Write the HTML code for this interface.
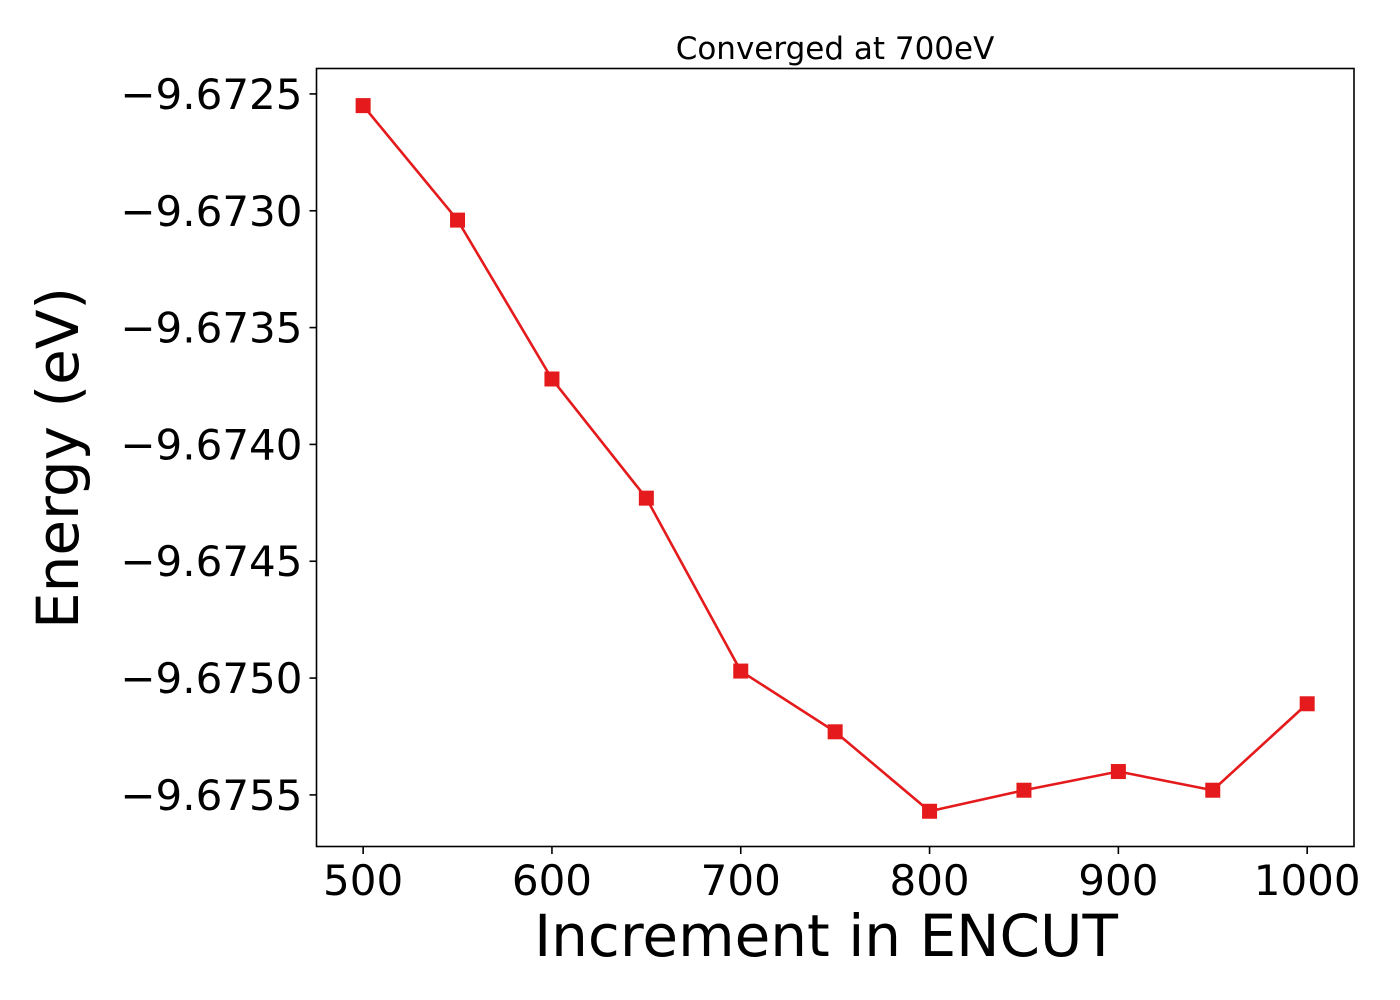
<!DOCTYPE html>
<html><head><meta charset="utf-8"><style>body{margin:0;background:#fff}svg{display:block;font-family:"DejaVu Sans","Liberation Sans",sans-serif}</style></head>
<body>
<svg id="chart" width="1400" height="1000">
<text x="835" y="59" font-size="31" text-anchor="middle">Converged at 700eV</text>
<text x="826" y="956" font-size="58" text-anchor="middle">Increment in ENCUT</text>
<text transform="translate(78,458) rotate(-90)" font-size="58" text-anchor="middle">Energy (eV)</text>
<g id="ticks"></g>
<g id="series"></g>
<rect x="316.5" y="68.5" width="1037.5" height="778" fill="none" stroke="#000" stroke-width="1.6"/>
</svg>
<script>
const xValues=[500,550,600,650,700,750,800,850,900,950,1000];
const energies=[-9.67255,-9.67304,-9.67372,-9.67423,-9.67497,-9.67523,-9.67557,-9.67548,-9.67540,-9.67548,-9.67511];
const xTicks=[500,600,700,800,900,1000];
const yTicks=[-9.6725,-9.6730,-9.6735,-9.6740,-9.6745,-9.6750,-9.6755];
const yTickLabels=["\u22129.6725","\u22129.6730","\u22129.6735","\u22129.6740","\u22129.6745","\u22129.6750","\u22129.6755"];
const L=316.5,R=1354,T=68,B=847;
const xMin=475.3,xMax=1024.8,yMin=-9.675723,yMax=-9.672389;
const sx=v=>L+(v-xMin)/(xMax-xMin)*(R-L);
const sy=v=>B-(v-yMin)/(yMax-yMin)*(B-T);
const NS="http://www.w3.org/2000/svg";
const tg=document.getElementById('ticks'),sg=document.getElementById('series');
function mk(tag,attrs,parent){const e=document.createElementNS(NS,tag);for(const k in attrs)e.setAttribute(k,attrs[k]);parent.appendChild(e);return e;}
xTicks.forEach(v=>{const x=sx(v);
 const l=mk('line',{x1:x,x2:x,y1:B,y2:B+7,stroke:'#000','stroke-width':1.6},tg);
 
 
 const t=mk('text',{x:x,y:B+48,'font-size':42,'text-anchor':'middle'},tg);
 
 
 t.textContent=v;});
yTicks.forEach((v,i)=>{const y=sy(v);
 const l=mk('line',{x1:L-7,x2:L,y1:y,y2:y,stroke:'#000','stroke-width':1.6},tg);
 
 
 const t=mk('text',{x:L-14,y:y+15,'font-size':42,'text-anchor':'end'},tg);
 
 
 t.textContent=yTickLabels[i];});
const pts=xValues.map((v,i)=>sx(v)+','+sy(energies[i])).join(' ');
const pl=mk('polyline',{points:pts,fill:'none',stroke:'#e41a1c','stroke-width':2.6},sg);


xValues.forEach((v,i)=>{
 const r=mk('rect',{x:sx(v)-7.5,y:sy(energies[i])-7.5,width:15,height:15,fill:'#e41a1c'},sg);
 
 });
</script>
</body></html>
